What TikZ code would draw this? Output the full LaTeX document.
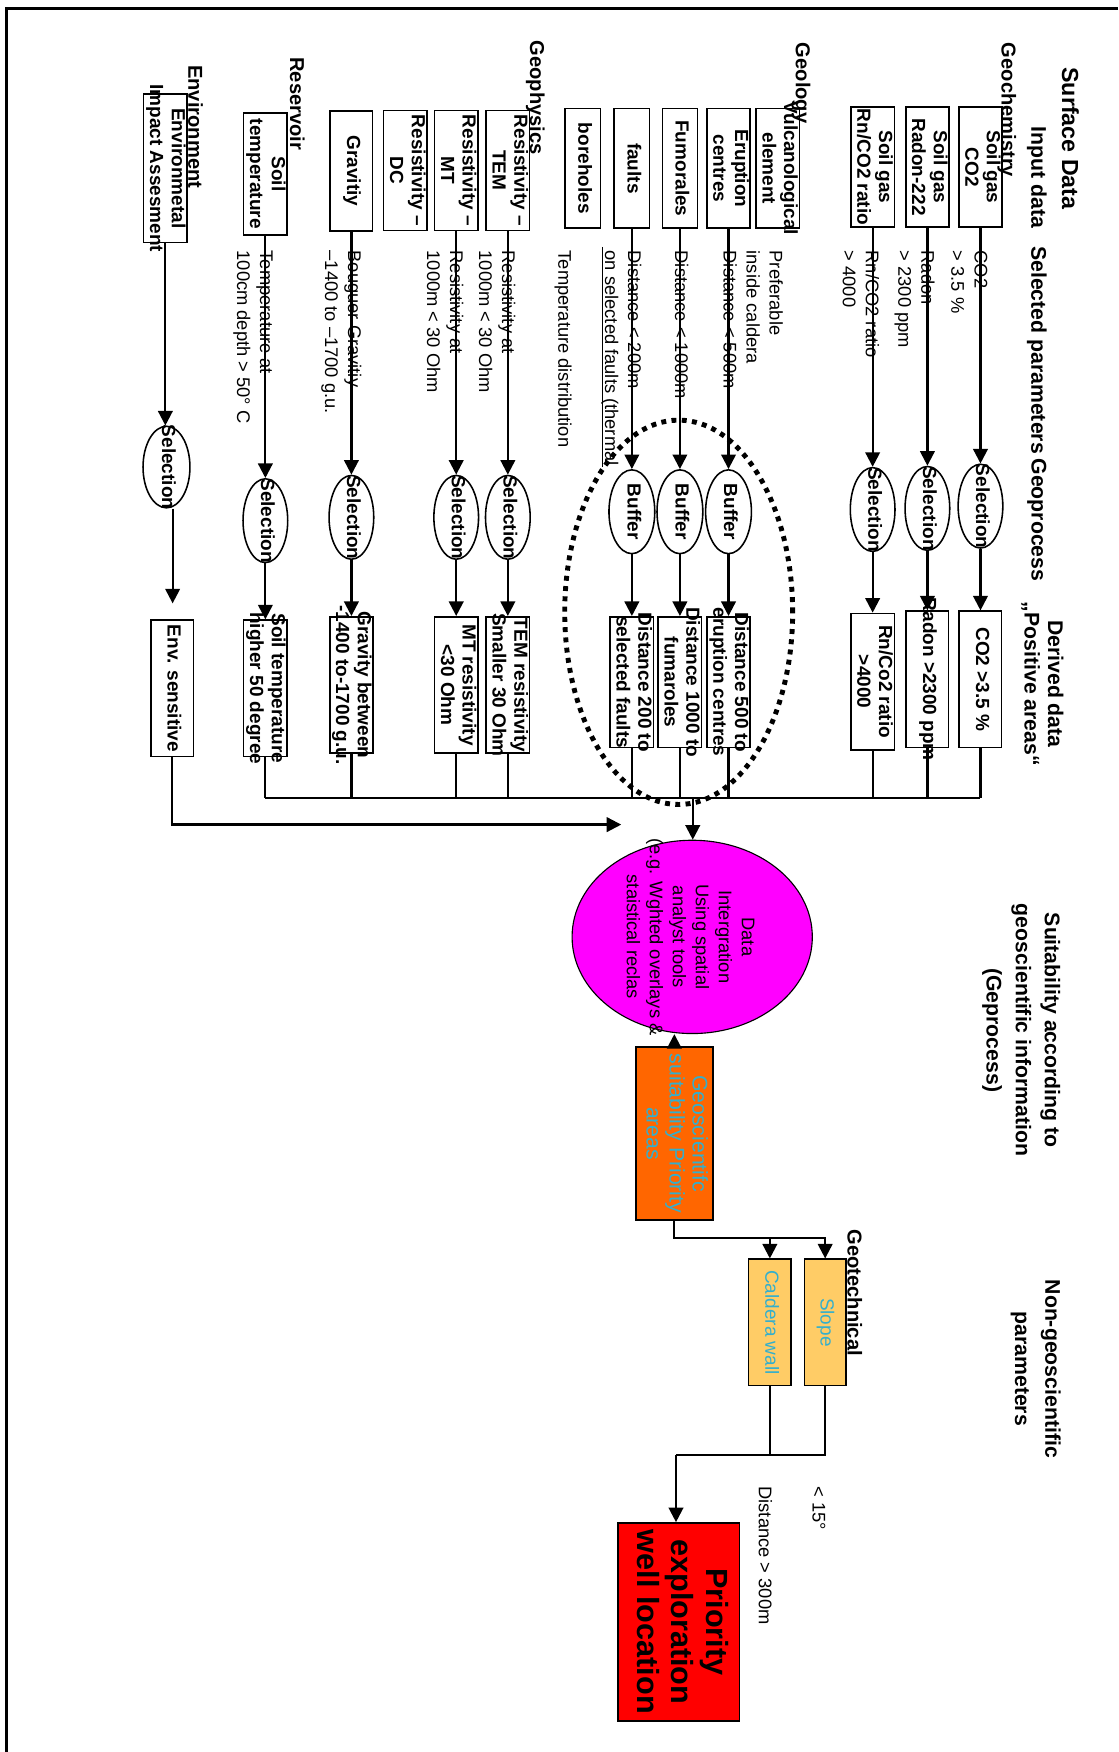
\documentclass[tikz,border=0pt]{standalone}
\usepackage{fontspec}
\setmainfont{Liberation Sans}
\usepackage{tikz}
\usetikzlibrary{arrows.meta,shapes.geometric,positioning}
\definecolor{integmagenta}{RGB}{255,0,255}
\definecolor{geoorange}{RGB}{255,102,0}
\definecolor{techorange}{RGB}{255,204,102}
\definecolor{wellred}{RGB}{255,0,0}
\definecolor{tealtext}{RGB}{51,175,205}
\newcommand{\bxfont}{\fontsize{8.5}{9.7}\selectfont\bfseries}
\newcommand{\lblfont}{\fontsize{8.2}{10.3}\selectfont}
\newcommand{\ztxt}[1]{\makebox[0pt]{\begin{tabular}{@{}c@{}}#1\end{tabular}}}

\begin{document}
\begin{tikzpicture}[x=0.5pt, y=-0.5pt,
    inbox/.style={draw, line width=0.7pt, rotate=-90, minimum width=53.6pt, minimum height=18.8pt, inner sep=0pt, font=\bxfont},
    outbox/.style={inbox, minimum width=61pt, minimum height=19pt},
    selell/.style={draw, ellipse, line width=0.7pt, rotate=-90, minimum width=37.5pt, minimum height=20pt, inner sep=0pt, font=\bxfont},
    bufell/.style={selell, minimum height=20.5pt},
    cond/.style={rotate=-90, anchor=west, align=left, inner sep=0pt, font=\lblfont},
    grp/.style={rotate=-90, anchor=west, inner sep=0pt, font=\fontsize{9}{11}\selectfont\bfseries},
    head/.style={rotate=-90, inner sep=0pt, align=center, font=\fontsize{9.5}{10.5}\selectfont\bfseries},
    geobox/.style={draw, line width=0.7pt, fill=techorange, rotate=-90, minimum width=56.5pt, minimum height=19pt, inner sep=0pt, text=tealtext, font=\fontsize{8.5}{10}\selectfont},
    line/.style={line width=1pt},
    arrow/.style={line width=1pt, -{Triangle[length=6.5pt,width=6.5pt]}},
    ringdash/.style={line width=2.2pt, dash pattern=on 2.2pt off 2.4pt}
]
    \useasboundingbox (0,0) rectangle (1001,1568);
    % frame
    \draw[line width=1.4pt] (5.5,1568) -- (5.5,7.5) -- (1001,7.5);

    % headers
    \node[head, anchor=west, font=\fontsize{10.4}{12}\selectfont\bfseries] (surf) at (958,60) {Surface Data};
    \node[head, anchor=west] (input) at (928,113) {Input data};
    \node[head, anchor=west] (param) at (928,220) {Selected parameters};
    \node[head, anchor=west] (gproc) at (928,410) {Geoprocess};
    \node[head] (derived) at (933,612) {Derived data\\„Positive areas“};
    \node[head, font=\fontsize{9.5}{13}\selectfont\bfseries] (suit) at (914,922) {Suitability according to\\geoscientific information\\(Geprocess)};
    \node[head, font=\fontsize{9.5}{13.5}\selectfont\bfseries] (nongeo) at (927,1225) {Non-geoscientific\\parameters};

    % groups
    \node[grp] (gchem) at (901,38) {Geochemistry};
    \node[grp] (geol) at (717,38) {Geology};
    \node[grp] (gphys) at (479,36) {Geophysics};
    \node[grp] (reserv) at (266,51) {Reservoir};
    \node[grp] (envir) at (175,58) {Environment};
    \node[grp] (gtech) at (765,1100) {Geotechnical};

    % geochemistry
    \node[inbox] (in-co2) at (877.5,149.5) {\ztxt{Soil gas\\CO2}};
    \node[inbox] (in-rn) at (830,149.5) {\ztxt{Soil gas\\Radon-222}};
    \node[inbox] (in-ratio) at (781,149.5) {\ztxt{Soil gas\\Rn/CO2 ratio}};
    \node[selell] (sel-co2) at (877.5,453) {\ztxt{Selection}};
    \node[selell] (sel-rn) at (830,455) {\ztxt{Selection}};
    \node[selell] (sel-ratio) at (781,456) {\ztxt{Selection}};
    \node[outbox] (out-co2) at (877.5,608) {\ztxt{CO2 >3.5 \%}};
    \node[outbox] (out-rn) at (830,608) {\ztxt{Radon >2300 ppm}};
    \node[outbox] (out-ratio) at (781,610) {\ztxt{Rn/Co2 ratio\\>4000}};
    \node[cond] (c-co2) at (867.5,224) {CO2\\> 3.5 \%};
    \node[cond] (c-rn) at (818.5,224) {Radon\\> 2300 ppm};
    \node[cond] (c-ratio) at (770.5,224) {Rn/CO2 ratio\\> 4000};

    % geology
    \node[inbox, minimum height=19pt] (in-vulc) at (696,150.7) {\ztxt{Vulcanological\\element}};
    \node[inbox] (in-erup) at (652,150.7) {\ztxt{Eruption\\centres}};
    \node[inbox, minimum height=15.75pt] (in-fum) at (608.5,150.7) {\ztxt{Fumorales}};
    \node[inbox, minimum height=15.75pt] (in-fault) at (565.5,150.7) {\ztxt{faults}};
    \node[inbox, minimum height=16pt] (in-bore) at (521.5,150.7) {\ztxt{boreholes}};
    \node[bufell] (sel-erup) at (652,458) {\ztxt{Buffer}};
    \node[bufell] (sel-fum) at (608.5,458) {\ztxt{Buffer}};
    \node[bufell] (sel-fault) at (565.5,458) {\ztxt{Buffer}};
    \node[outbox, minimum width=58.5pt] (out-erup) at (652,610.5) {\ztxt{Distance 500 to\\eruption centres}};
    \node[outbox, minimum width=58.5pt] (out-fum) at (608.5,610.5) {\ztxt{Distance 1000 to\\fumaroles}};
    \node[outbox, minimum width=58.5pt] (out-fault) at (565.5,610.5) {\ztxt{Distance 200 to\\selected faults}};
    \node[cond] (c-erup) at (674,224) {Preferable\\inside caldera\\Distance < 500m};
    \node[cond] (c-fum) at (610,224) {Distance < 1000m};
    \node[cond] (c-fault) at (556,224) {Distance < 200m\\on selected faults (thermal};
    \node[cond] (c-bore) at (504,224) {Temperature distribution};
    \draw[line width=0.5pt] (539.5,221) -- (539.5,418);
    \draw[ringdash] (607.4,548) ellipse [x radius=51pt, y radius=86pt];

    % geophysics
    \node[inbox] (in-tem) at (454.5,152.5) {\ztxt{Resistivity –\\TEM}};
    \node[inbox] (in-mt) at (408.3,152.5) {\ztxt{Resistivity –\\MT}};
    \node[inbox] (in-dc) at (362.7,152.5) {\ztxt{Resistivity –\\DC}};
    \node[inbox, minimum height=19pt] (in-grav) at (314.5,153) {\ztxt{Gravitiy}};
    \node[selell] (sel-tem) at (454.5,463) {\ztxt{Selection}};
    \node[selell] (sel-mt) at (408.3,463) {\ztxt{Selection}};
    \node[selell] (sel-grav) at (314.5,463) {\ztxt{Selection}};
    \node[outbox] (out-tem) at (454.5,613) {\ztxt{TEM resistivity\\Smaller 30 Ohm}};
    \node[outbox] (out-mt) at (408.3,613) {\ztxt{MT resistivity\\<30 Ohm}};
    \node[outbox] (out-grav) at (314.5,613) {\ztxt{Gravity between\\-1400 to-1700 g.u.}};
    \node[cond] (c-tem) at (445,224) {Resistivity at\\1000m < 30 Ohm};
    \node[cond] (c-mt) at (398.5,224) {Resistivity at\\1000m < 30 Ohm};
    \node[cond] (c-grav) at (305.5,224) {Bouguer Gravitiy\\–1400 to –1700 g.u.};

    % reservoir
    \node[inbox, minimum width=54.5pt, minimum height=19.25pt] (in-soil) at (237.5,155.6) {\ztxt{Soil\\temperature}};
    \node[selell] (sel-soil) at (237.5,466) {\ztxt{Selection}};
    \node[outbox] (out-soil) at (237.5,616) {\ztxt{Soil temperature\\higher 50 degree}};
    \node[cond] (c-soil) at (226.5,224) {Temperature at\\100cm depth > 50° C};

    % environment
    \node[inbox, minimum width=66.5pt, minimum height=19.2pt] (in-env) at (148,150.7) {\ztxt{Environmetal\\Impact Assesment}};
    \node[selell, minimum width=36.5pt, minimum height=21pt] (sel-env) at (149,418) {\ztxt{Selection}};
    \node[outbox] (out-env) at (154,616) {\ztxt{Env. sensitive}};

    \foreach \n in {co2,rn,ratio,erup,fum,fault,tem,mt,grav,soil} {
        \draw[arrow] (in-\n.east) -- (sel-\n.west);
        \draw[arrow] (sel-\n.east) -- (out-\n.west);
    }

    % merge into integration
    \node[draw, ellipse, line width=0.5pt, fill=integmagenta, minimum width=107.5pt, minimum height=86.5pt, inner sep=0pt] (integ) at (619.5,838.5) {};
    \node[rotate=-90, align=center, inner sep=0pt, font=\lblfont] (integ-txt) at (618,838.5) {Data\\Intergration\\Using spatial\\analyst tools\\(e.g. Wghted overlays \&\\staistical reclas};
    \coordinate (merge) at (620,714);
    \foreach \n in {co2,rn,ratio,erup,fum,fault,tem,mt,grav,soil}
        \draw[line] (out-\n.east) -- (out-\n.east |- merge);
    \draw[line] (out-soil.east |- merge) -- (out-co2.east |- merge);
    \draw[arrow] (merge) -- (merge |- integ.north);

    \coordinate (envtip) at (154.5,540);
    \coordinate (envend) at (556,738);
    \draw[arrow] (in-env.east) -- (in-env.east |- sel-env.west);
    \draw[arrow] (sel-env.east -| envtip) -- (envtip);
    \draw[arrow] (out-env.east) |- (envend);

    % suitability
    \node[draw, line width=0.7pt, fill=geoorange, rotate=-90, minimum width=77.5pt, minimum height=34.5pt, inner sep=0pt, text=tealtext, font=\fontsize{9.5}{10.3}\selectfont] (geosuit) at (603.5,1014.5) {\ztxt{Geoscientifc\\suitability Priority\\areas}};
    \draw[arrow] (geosuit.west) -- (geosuit.west |- integ.south);

    \node[geobox] (caldera) at (689,1183.5) {\ztxt{Caldera wall}};
    \node[geobox, minimum height=18.5pt] (slope) at (738.5,1183.5) {\ztxt{Slope}};
    \coordinate (split) at (603.5,1108);
    \draw[arrow] (geosuit.east) -- (split) -| (slope.west);
    \draw[arrow] (split -| caldera.west) -- (caldera.west);
    \node[cond] (c-slope) at (733,1330) {< 15°};
    \node[cond] (c-cald) at (685,1330) {Distance > 300m};

    \node[draw, line width=0.7pt, fill=wellred, rotate=-90, minimum width=88.5pt, minimum height=54.5pt, inner sep=0pt, font=\fontsize{13.7}{15.5}\selectfont\bfseries] (priority) at (607.5,1451.5) {\ztxt{Priority\\exploration\\well location}};
    \coordinate (join) at (605,1302);
    \draw[line] (slope.east) |- (join);
    \draw[line] (caldera.east) -- (caldera.east |- join);
    \draw[arrow] (join) -- (join |- priority.west);
\end{tikzpicture}
\end{document}
